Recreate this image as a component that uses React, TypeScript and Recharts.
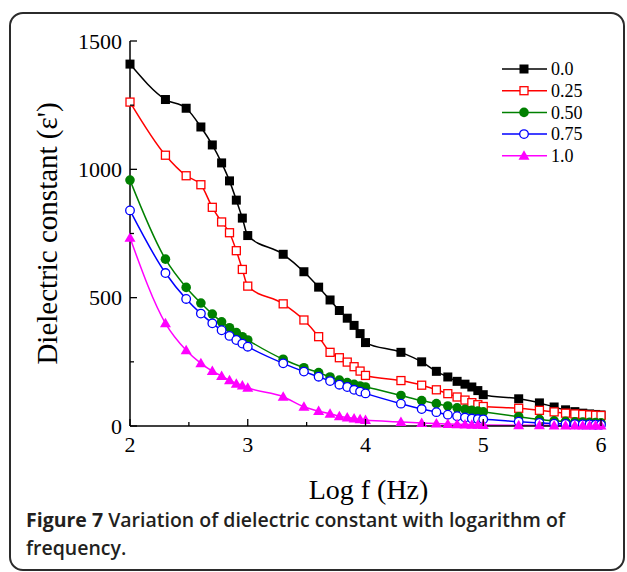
import React from 'react';
import { LineChart, Line, XAxis, YAxis, Legend, Label } from 'recharts';

// log10 of frequency (100 Hz .. 1 MHz)
const logF = [
  2, 2.301, 2.477, 2.602, 2.699, 2.778, 2.845, 2.903, 2.954,
  3, 3.301, 3.477, 3.602, 3.699, 3.778, 3.845, 3.903, 3.954,
  4, 4.301, 4.477, 4.602, 4.699, 4.778, 4.845, 4.903, 4.954,
  5, 5.301, 5.477, 5.602, 5.699, 5.778, 5.845, 5.903, 5.954, 6,
];

// dielectric constant for each composition x
const eps00 = [
  1410, 1272, 1238, 1165, 1095, 1025, 955, 880, 810,
  742, 669, 601, 541, 491, 450, 420, 392, 360,
  325, 287, 250, 213, 191, 174, 163, 152, 138,
  122, 106, 90, 74, 63, 56, 50, 47, 45, 43,
];
const eps025 = [
  1262, 1055, 975, 940, 852, 795, 753, 683, 610,
  545, 476, 413, 348, 287, 266, 249, 231, 214,
  197, 177, 159, 141, 126, 113, 101, 91, 83,
  76, 69, 61, 55, 50, 47, 45, 43, 42, 41,
];
const eps050 = [
  958, 650, 540, 479, 436, 406, 383, 364, 348,
  335, 260, 227, 208, 191, 179, 169, 162, 156,
  152, 119, 99, 87, 78, 71, 65, 61, 58,
  55, 36, 26, 20, 18, 16, 15, 14, 13, 12,
];
const eps075 = [
  840, 596, 495, 438, 400, 373, 351, 335, 321,
  309, 244, 212, 192, 175, 161, 152, 141, 134,
  127, 87, 66, 54, 44, 38, 33, 29, 27,
  26, 17, 12, 9, 8, 7, 6, 6, 5, 5,
];
const eps100 = [
  733, 400, 295, 244, 214, 195, 178, 165, 158,
  149, 114, 75, 58, 48, 38, 33, 29, 26,
  23, 16, 12, 10, 8, 7, 6, 5, 5,
  4, 3, 3, 2, 2, 2, 2, 2, 2, 2,
];

const xTicks = [2, 2.5, 3, 3.5, 4, 4.5, 5, 5.5, 6];
const yTicks = [0, 250, 500, 750, 1000, 1250, 1500];

const SERIES = [
  { key: 'x00', name: '0.0', color: '#000000', shape: 'square' },
  { key: 'x025', name: '0.25', color: '#ff0000', shape: 'squareOpen' },
  { key: 'x050', name: '0.50', color: '#008000', shape: 'circle' },
  { key: 'x075', name: '0.75', color: '#0000ff', shape: 'circleOpen' },
  { key: 'x100', name: '1.0', color: '#ff00ff', shape: 'triangle' },
];

const data = logF.map((f, i) => ({
  f,
  x00: eps00[i],
  x025: eps025[i],
  x050: eps050[i],
  x075: eps075[i],
  x100: eps100[i],
}));

const SERIF = '"Liberation Serif", "Times New Roman", serif';

function Marker({ cx, cy, shape, color }: any) {
  if (cx == null || cy == null) return null;
  switch (shape) {
    case 'square':
      return <rect x={cx - 4.5} y={cy - 4.5} width={9} height={9} fill={color} />;
    case 'squareOpen':
      return <rect x={cx - 4} y={cy - 4} width={8} height={8} fill="#fff" stroke={color} strokeWidth={1.3} />;
    case 'circle':
      return <circle cx={cx} cy={cy} r={4.8} fill={color} />;
    case 'circleOpen':
      return <circle cx={cx} cy={cy} r={4.3} fill="#fff" stroke={color} strokeWidth={1.3} />;
    default:
      return (
        <polygon
          points={`${cx},${cy - 5.5} ${cx + 5.5},${cy + 4} ${cx - 5.5},${cy + 4}`}
          fill={color}
        />
      );
  }
}

// ticks point inward; labels only on major ticks
function BottomTick({ x, y, payload }: any) {
  const major = Number.isInteger(payload.value);
  return (
    <g>
      <line x1={x} x2={x} y1={y} y2={y - (major ? 7 : 4)} stroke="#000" strokeWidth={1.3} />
      {major && (
        <text x={x} y={y + 26} textAnchor="middle" fontSize={22} fontFamily={SERIF} fill="#000">
          {payload.value}
        </text>
      )}
    </g>
  );
}

function TopTick({ x, y, payload }: any) {
  const major = Number.isInteger(payload.value);
  return <line x1={x} x2={x} y1={y} y2={y + (major ? 7 : 4)} stroke="#000" strokeWidth={1.3} />;
}

function LeftTick({ x, y, payload }: any) {
  const major = payload.value % 500 === 0;
  return (
    <g>
      <line x1={x} x2={x + (major ? 7 : 4)} y1={y} y2={y} stroke="#000" strokeWidth={1.3} />
      {major && (
        <text x={x - 8} y={y} dy="0.35em" textAnchor="end" fontSize={22} fontFamily={SERIF} fill="#000">
          {payload.value}
        </text>
      )}
    </g>
  );
}

function RightTick({ x, y, payload }: any) {
  const major = payload.value % 500 === 0;
  return <line x1={x} x2={x - (major ? 7 : 4)} y1={y} y2={y} stroke="#000" strokeWidth={1.3} />;
}

function LegendBox({ payload }: any) {
  const items = (payload || [])
    .map((p: any) => SERIES.find((s) => s.key === p.dataKey))
    .filter(Boolean);
  return (
    <svg width={110} height={112}>
      {items.map((s: any, i: number) => {
        const cy = 11 + i * 21.7;
        return (
          <g key={s.key}>
            <line x1={2} x2={47} y1={cy} y2={cy} stroke={s.color} strokeWidth={1.5} />
            <Marker cx={24} cy={cy} shape={s.shape} color={s.color} />
            <text x={51} y={cy} dy="0.35em" fontSize={18} fontFamily={SERIF} fill="#000">
              {s.name}
            </text>
          </g>
        );
      })}
    </svg>
  );
}

export default function App() {
  return (
    <div style={{ position: 'absolute', left: 0, top: 0, width: 627, height: 572, background: '#fff' }}>
      <div
        style={{
          position: 'absolute',
          left: 9,
          top: 12,
          width: 616,
          height: 559,
          border: '2px solid #2b2b2b',
          borderRadius: 14,
          boxSizing: 'border-box',
        }}
      />
      <div style={{ position: 'absolute', left: 0, top: 0 }}>
        <LineChart width={627} height={572} data={data} margin={{ top: 41, right: 26, bottom: 86, left: 0 }}>
          <XAxis
            dataKey="f"
            type="number"
            domain={[2, 6]}
            ticks={xTicks}
            interval={0}
            tickSize={0}
            tickMargin={0}
            tickLine={false}
            tick={<BottomTick />}
            height={60}
            axisLine={{ stroke: '#000', strokeWidth: 1.5 }}
          >
            <Label
              value="Log f (Hz)"
              position="center"
              dy={33}
              dx={3}
              style={{ fontSize: 28, fontFamily: SERIF, fill: '#000' }}
            />
          </XAxis>
          <XAxis
            xAxisId="top"
            orientation="top"
            dataKey="f"
            type="number"
            domain={[2, 6]}
            ticks={xTicks}
            interval={0}
            tickSize={0}
            tickMargin={0}
            tickLine={false}
            tick={<TopTick />}
            height={0}
            axisLine={{ stroke: '#000', strokeWidth: 1.5 }}
          />
          <YAxis
            type="number"
            domain={[0, 1500]}
            ticks={yTicks}
            interval={0}
            tickSize={0}
            tickMargin={0}
            tickLine={false}
            tick={<LeftTick />}
            width={130}
            axisLine={{ stroke: '#000', strokeWidth: 1.5 }}
          >
            <Label
              value="Dielectric constant (ε')"
              angle={-90}
              position="center"
              dx={-18}
              style={{ fontSize: 29, fontFamily: SERIF, fill: '#000', textAnchor: 'middle' }}
            />
          </YAxis>
          <YAxis
            yAxisId="right"
            orientation="right"
            type="number"
            domain={[0, 1500]}
            ticks={yTicks}
            interval={0}
            tickSize={0}
            tickMargin={0}
            tickLine={false}
            tick={<RightTick />}
            width={0}
            axisLine={{ stroke: '#000', strokeWidth: 1.5 }}
          />
          <Legend
            layout="vertical"
            align="center"
            verticalAlign="middle"
            content={<LegendBox />}
            wrapperStyle={{ position: 'absolute', left: 500, top: 58, width: 110, height: 112 }}
          />
          {SERIES.map((s) => (
            <Line
              key={s.key}
              dataKey={s.key}
              name={s.name}
              type="monotone"
              stroke={s.color}
              strokeWidth={1.5}
              isAnimationActive={false}
              dot={(p: any) => (
                <Marker key={`${s.key}-${p.index}`} cx={p.cx} cy={p.cy} shape={s.shape} color={s.color} />
              )}
              activeDot={false}
            />
          ))}
        </LineChart>
      </div>
      <div
        style={{
          position: 'absolute',
          left: 26,
          top: 506,
          fontFamily: '"Open Sans", sans-serif',
          fontSize: 19.5,
          lineHeight: '28px',
          color: '#231f20',
          fontWeight: 600,
        }}
      >
        <div>
          <span style={{ fontWeight: 700 }}>Figure 7</span> Variation of dielectric constant with logarithm of
        </div>
        <div>frequency.</div>
      </div>
    </div>
  );
}
